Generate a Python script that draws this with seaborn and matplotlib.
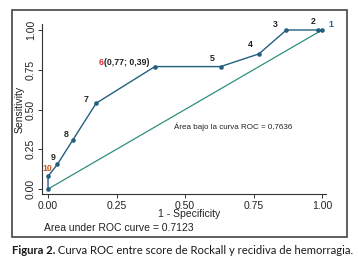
import matplotlib
matplotlib.use("Agg")
import matplotlib.pyplot as plt
from matplotlib.patches import Rectangle
import seaborn as sns

# ROC points (1 - specificity, sensitivity) and cut-off labels
fpr = [0.0, 0.0, 0.034, 0.091, 0.176, 0.39, 0.63, 0.77, 0.87, 0.985, 1.0]
tpr = [0.0, 0.08, 0.155, 0.31, 0.54, 0.77, 0.77, 0.85, 1.0, 1.0, 1.0]
cut_labels = ["", "10", "9", "8", "7", "6", "5", "4", "3", "2", "1"]
ref_x = [0.0, 1.0]
ref_y = [0.0, 1.0]
ticks = [0.0, 0.25, 0.5, 0.75, 1.0]
tick_labels = ["0.00", "0.25", "0.50", "0.75", "1.00"]

sns.set_style("ticks")
plt.rcParams['font.family'] = ['Liberation Sans', 'DejaVu Sans']

line_col = '#245f80'
ref_col = '#2f8f7e'
txt_col = '#222222'

fig = plt.figure(figsize=(3.58, 2.67), dpi=100)
ax = fig.add_axes([0.1173, 0.2723, 0.7925, 0.638])

sns.lineplot(x=ref_x, y=ref_y, ax=ax, color=ref_col, linewidth=0.9,
             sort=False, estimator=None)
sns.lineplot(x=fpr, y=tpr, ax=ax, color=line_col, linewidth=1.0,
             marker='o', markersize=3.3, markeredgewidth=0,
             sort=False, estimator=None)

# label offsets in pixels (label centre minus point)
offsets = [(0, 0), (-1, 8), (-4, 7), (-7, 5), (-10, 4), (-35, 4),
           (-8, 8), (-9, 9), (-11, 5), (-5, 8), (9, 5)]
colors = [txt_col, '#c4561f', txt_col, txt_col, txt_col, '#d8262c',
          txt_col, txt_col, txt_col, txt_col, '#2a5f9e']
for x, y, lab, off, c in zip(fpr, tpr, cut_labels, offsets, colors):
    if not lab:
        continue
    if lab == "6":
        t6 = ax.annotate(lab, (x, y), xytext=(-56, 4), textcoords='offset pixels',
                         ha='left', va='center', fontsize=6.3, color=c,
                         fontweight='bold')
        ax.annotate("(0,77; 0,39)", xy=(1, 0), xycoords=t6, ha='left', va='bottom',
                    fontsize=6.3, color=txt_col, fontweight='bold')
    else:
        ax.annotate(lab, (x, y), xytext=off, textcoords='offset pixels',
                    ha='center', va='center', fontsize=6.3, color=c,
                    fontweight='bold')

ax.text(0.46, 0.39, "Área bajo la curva ROC = 0,7636", fontsize=5.8,
        color=txt_col, ha='left', va='center')

ax.set_xlim(-0.022, 1.0135)
ax.set_ylim(-0.033, 1.038)
ax.set_xticks(ticks)
ax.set_xticklabels(tick_labels, fontsize=7.5, color=txt_col)
ax.set_yticks(ticks)
ax.set_yticklabels(tick_labels, fontsize=7.5, color=txt_col, rotation=90, va='center')
ax.tick_params(direction='out', length=3, width=0.7, color='#333333', pad=1.5)
for s in ['top', 'right']:
    ax.spines[s].set_visible(False)
for s in ['left', 'bottom']:
    ax.spines[s].set_color('#333333')
    ax.spines[s].set_linewidth(0.8)
ax.set_xlabel("")
ax.set_ylabel("")

fig.text(20 / 358, 1 - 109 / 267, "Sensitivity", rotation=90, fontsize=7.5,
         ha='center', va='center', color=txt_col)
fig.text(189 / 358, 1 - 214 / 267, "1 - Specificity", fontsize=7.5,
         ha='center', va='center', color=txt_col)
fig.text(44 / 358, 1 - 228 / 267, "Area under ROC curve = 0.7123", fontsize=7.5,
         ha='left', va='center', color=txt_col)

# outer frame
fig.patches.append(Rectangle((12 / 358, 1 - 237 / 267), 335 / 358, 227 / 267,
                             transform=fig.transFigure, fill=False,
                             edgecolor='#444444', linewidth=1.2))

cap = fig.text(12 / 358, 1 - 250 / 267, "Figura 2.", fontsize=8.1, fontweight='bold',
               family=['Lato', 'DejaVu Sans'], color='#1a1a1a', ha='left', va='center')
plt.annotate(" Curva ROC entre score de Rockall y recidiva de hemorragia.",
             xy=(1, 0), xycoords=cap, ha='left', va='bottom', fontsize=8.1,
             family=['Lato', 'DejaVu Sans'], color='#1a1a1a',
             annotation_clip=False)

fig.savefig("out.png", dpi=100)
